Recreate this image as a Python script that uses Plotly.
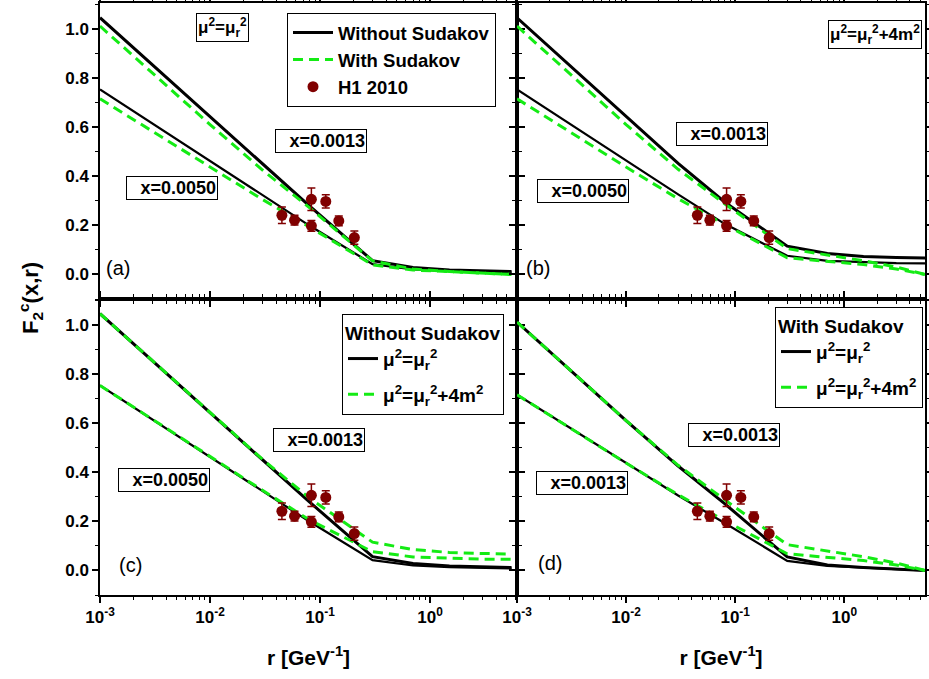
import plotly.graph_objects as go

# ---------------- data ----------------
r_grid = [0.001, 0.003, 0.01, 0.03, 0.08, 0.3, 0.7, 1.5, 3.0, 5.5]

# Without Sudakov, mu^2 = mu_r^2
nosud_mur_x13 = [1.045, 0.853, 0.642, 0.449, 0.279, 0.056, 0.028, 0.018, 0.014, 0.012]
nosud_mur_x50 = [0.753, 0.614, 0.462, 0.323, 0.199, 0.042, 0.020, 0.013, 0.010, 0.008]
# With Sudakov, mu^2 = mu_r^2
sud_mur_x13 = [1.011, 0.820, 0.610, 0.425, 0.272, 0.055, 0.022, 0.012, 0.006, 0.000]
sud_mur_x50 = [0.715, 0.582, 0.437, 0.305, 0.193, 0.039, 0.018, 0.010, 0.005, 0.000]
# Without Sudakov, mu^2 = mu_r^2 + 4m^2
nosud_4m_x13 = [1.045, 0.853, 0.642, 0.452, 0.295, 0.115, 0.085, 0.073, 0.069, 0.067]
nosud_4m_x50 = [0.753, 0.614, 0.462, 0.326, 0.206, 0.076, 0.055, 0.049, 0.046, 0.045]
# With Sudakov, mu^2 = mu_r^2 + 4m^2
sud_4m_x13 = [1.011, 0.820, 0.610, 0.428, 0.288, 0.105, 0.080, 0.056, 0.030, 0.000]
sud_4m_x50 = [0.715, 0.582, 0.437, 0.308, 0.203, 0.068, 0.052, 0.040, 0.022, 0.000]

# H1 2010 data
h1_r = [0.045, 0.0586, 0.0834, 0.0834, 0.1127, 0.148, 0.205]
h1_f2 = [0.241, 0.221, 0.198, 0.306, 0.297, 0.218, 0.150]
h1_err = [0.034, 0.020, 0.022, 0.046, 0.027, 0.020, 0.027]

x_tickvals = [1e-3, 1e-2, 1e-1, 1]
x_ticktext = ["10<sup>-3</sup>", "10<sup>-2</sup>", "10<sup>-1</sup>", "10<sup>0</sup>"]
x_minorvals = [m * 10.0 ** e for e in (-3, -2, -1, 0) for m in range(2, 10)]
y_tickvals = [0.0, 0.2, 0.4, 0.6, 0.8, 1.0]
y_ticktext = ["0.0", "0.2", "0.4", "0.6", "0.8", "1.0"]

# ---------------- styles ----------------
BLACK = "black"
GREEN = "rgb(20,235,20)"
RED = "#800000"
NARROW = "Liberation Sans Narrow, Liberation Sans, Arial"
SANS = "Liberation Sans, Arial"

W, H = 929, 679
ML, MR, MT, MB = 100, 4, 3, 84
PW, PH = W - ML - MR, H - MT - MB
split = (517 - ML) / PW


def px(x):
    return (x - ML) / PW


def py(y):
    return (H - MB - y) / PH


fig = go.Figure()

panels = {
    "a": ("x", "y"),
    "b": ("x2", "y2"),
    "c": ("x3", "y3"),
    "d": ("x4", "y4"),
}


def line(panel, y, color, name, width, legend=None, dash="solid"):
    xa, ya = panels[panel]
    fig.add_trace(go.Scatter(
        x=r_grid, y=y, mode="lines", xaxis=xa, yaxis=ya, name=name,
        line=dict(color=color, width=width, dash=dash),
        legendgroup=panel + name,
        showlegend=legend is not None, legend=legend or "legend",
    ))


def data(panel, legend=None):
    xa, ya = panels[panel]
    fig.add_trace(go.Scatter(
        x=h1_r, y=h1_f2, mode="markers", xaxis=xa, yaxis=ya, name="H1 2010",
        marker=dict(color=RED, size=11),
        error_y=dict(type="data", array=h1_err, color=RED, thickness=1.5, width=4),
        legendgroup=panel + "H1",
        showlegend=legend is not None, legend=legend or "legend",
    ))


GDASH = "10px,6px"
# panel (a): mu^2 = mu_r^2, with / without Sudakov
line("a", nosud_mur_x13, BLACK, "Without Sudakov", 3, legend="legend")
line("a", nosud_mur_x50, BLACK, "Without Sudakov", 2.2)
line("a", sud_mur_x13, GREEN, "With Sudakov", 3, legend="legend", dash=GDASH)
line("a", sud_mur_x50, GREEN, "With Sudakov", 3, dash=GDASH)
data("a", legend="legend")

# panel (b): mu^2 = mu_r^2 + 4m^2
line("b", nosud_4m_x13, BLACK, "Without Sudakov", 3)
line("b", nosud_4m_x50, BLACK, "Without Sudakov", 2.2)
line("b", sud_4m_x13, GREEN, "With Sudakov", 3, dash=GDASH)
line("b", sud_4m_x50, GREEN, "With Sudakov", 3, dash=GDASH)
data("b")

MU1 = "μ<sup>2</sup>=μ<sub>r</sub><sup>2</sup>"
MU2 = "μ<sup>2</sup>=μ<sub>r</sub><sup>2</sup>+4m<sup>2</sup>"

# panel (c): without Sudakov
line("c", nosud_mur_x13, BLACK, MU1, 3, legend="legend2")
line("c", nosud_mur_x50, BLACK, MU1, 2.2)
line("c", nosud_4m_x13, GREEN, MU2, 3, legend="legend2", dash=GDASH)
line("c", nosud_4m_x50, GREEN, MU2, 3, dash=GDASH)
data("c")

# panel (d): with Sudakov
line("d", sud_mur_x13, BLACK, MU1, 3, legend="legend3")
line("d", sud_mur_x50, BLACK, MU1, 2.2)
line("d", sud_4m_x13, GREEN, MU2, 3, legend="legend3", dash=GDASH)
line("d", sud_4m_x50, GREEN, MU2, 3, dash=GDASH)
data("d")

# ---------------- axes ----------------
tickfont = dict(family=NARROW, size=17, color="black", weight="bold")


def xaxis(domain, rng, anchor, labels, title=None):
    d = dict(
        type="log", domain=domain, range=rng, anchor=anchor,
        tickmode="array", tickvals=x_tickvals, ticktext=x_ticktext,
        showticklabels=labels, tickfont=tickfont,
        ticks="outside", ticklen=6, tickwidth=1.5, tickcolor="black",
        minor=dict(tickmode="array", tickvals=x_minorvals, ticks="outside",
                   ticklen=3, tickwidth=1.2, tickcolor="black", showgrid=False),
        showline=True, linecolor="black", linewidth=1.5, mirror="ticks",
        showgrid=False, zeroline=False, automargin=False,
    )
    if title:
        d["title"] = dict(text=title, standoff=24,
                          font=dict(family=NARROW, size=21, color="black", weight="bold"))
    return d


def yaxis(domain, anchor, labels):
    return dict(
        domain=domain, range=[-0.1, 1.105], anchor=anchor,
        tickmode="array", tickvals=y_tickvals, ticktext=y_ticktext,
        showticklabels=labels, tickfont=tickfont,
        ticks="outside", ticklen=6, tickwidth=1.5, tickcolor="black",
        minor=dict(tickmode="linear", dtick=0.1, tick0=0, ticks="outside",
                   ticklen=3, tickwidth=1.2, tickcolor="black", showgrid=False),
        showline=True, linecolor="black", linewidth=1.5, mirror="ticks",
        showgrid=False, zeroline=False, automargin=False,
    )


XL = [-3, 0.79]
XR = [-3, 0.74]
TITLE = "r [GeV<sup>-1</sup>]"

fig.update_layout(
    xaxis=xaxis([0, split], XL, "y", False),
    xaxis2=xaxis([split, 1], XR, "y2", False),
    xaxis3=xaxis([0, split], XL, "y3", True, TITLE),
    xaxis4=xaxis([split, 1], XR, "y4", True, TITLE),
    yaxis=yaxis([0.5, 1], "x", True),
    yaxis2=yaxis([0.5, 1], "x2", False),
    yaxis3=yaxis([0, 0.5], "x3", True),
    yaxis4=yaxis([0, 0.5], "x4", False),
)

legfont = dict(family=SANS, size=19, color="black", weight="bold")
fig.update_layout(
    legend=dict(x=px(287), y=py(13), xanchor="left", yanchor="top",
                bordercolor="black", borderwidth=1, bgcolor="white",
                font=dict(legfont, size=18.5), tracegroupgap=0, itemwidth=40,
                traceorder="normal"),
    legend2=dict(x=px(342), y=py(314), xanchor="left", yanchor="top",
                 bordercolor="black", borderwidth=1, bgcolor="white",
                 font=legfont, tracegroupgap=8, traceorder="grouped",
                 title=dict(text="Without Sudakov", font=legfont)),
    legend3=dict(x=px(775), y=py(307), xanchor="left", yanchor="top",
                 bordercolor="black", borderwidth=1, bgcolor="white",
                 font=legfont, tracegroupgap=8, traceorder="grouped",
                 title=dict(text="With Sudakov", font=legfont)),
)

# ---------------- annotations ----------------
annfont = dict(family=SANS, size=18, color="black", weight="bold")
ann = []


def box(text, cx, cy, size=18, width=None):
    d = dict(text=text, x=px(cx), y=py(cy), xref="paper", yref="paper",
             xanchor="center", yanchor="middle",
             showarrow=False, bordercolor="black", borderwidth=1, borderpad=1,
             bgcolor="white", font=dict(annfont, size=size))
    if width:
        d.update(width=width, align="right")
    ann.append(d)


box(MU1, 222, 28, 17)
box(MU2, 875, 34, 17)
box("x=0.0013", 321, 141, width=88)
box("x=0.0050", 172, 188, width=88)
box("x=0.0013", 722, 134, width=88)
box("x=0.0050", 583, 191, width=88)
box("x=0.0013", 319, 440, width=88)
box("x=0.0050", 164, 480, width=88)
box("x=0.0013", 734, 435, width=88)
box("x=0.0013", 582, 483, width=88)

for lab, cx, cy in [("(a)", 118, 268), ("(b)", 538, 268), ("(c)", 130, 565), ("(d)", 550, 563)]:
    ann.append(dict(text=lab, x=px(cx), y=py(cy), xref="paper", yref="paper",
                    xanchor="center", yanchor="middle",
                    showarrow=False, font=dict(family=SANS, size=20, color="black")))

ann.append(dict(text="F<sub>2</sub><sup>c</sup>(x,r)", x=px(30), y=py(298),
                xref="paper", yref="paper", showarrow=False, textangle=-90,
                xanchor="center", yanchor="middle",
                font=dict(family=SANS, size=22, color="black", weight="bold")))

fig.update_layout(
    annotations=ann,
    width=W, height=H,
    margin=dict(l=ML, r=MR, t=MT, b=MB, autoexpand=False),
    paper_bgcolor="white", plot_bgcolor="white",
)

fig.write_html("out.html", config={"displayModeBar": False},
               post_script="document.body.style.margin='0px';")
